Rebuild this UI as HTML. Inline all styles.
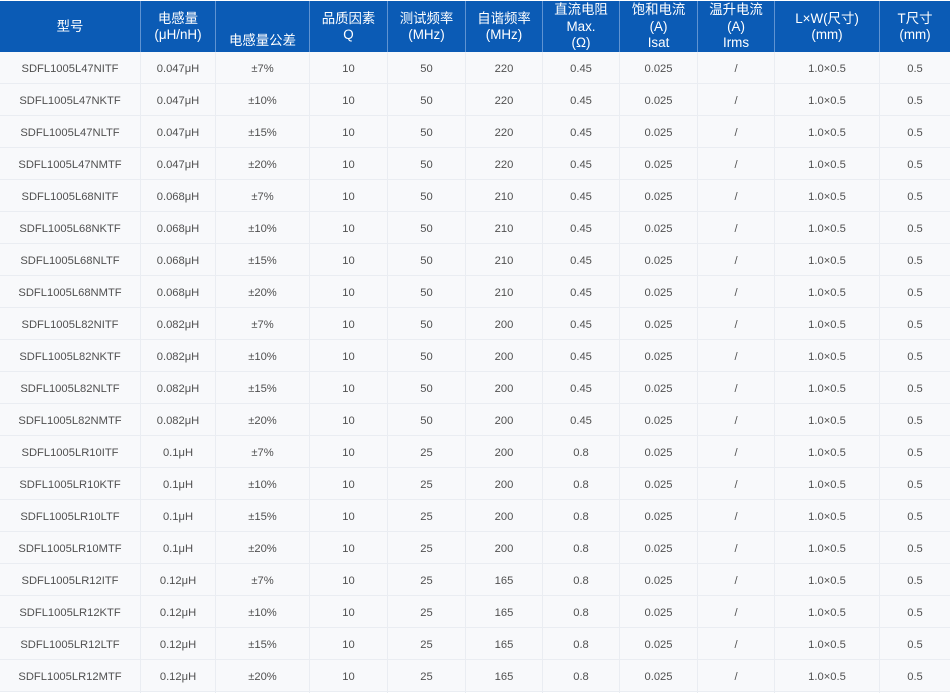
<!DOCTYPE html>
<html><head><meta charset="utf-8"><style>
*{margin:0;padding:0;box-sizing:border-box}
html,body{width:950px;height:694px;background:#fff;overflow:hidden}
body{font-family:"Liberation Sans","Noto Sans CJK SC",sans-serif;position:relative}
.hdr{position:absolute;left:0;top:1px;width:950px;height:51px;background:#0b5bb5;display:grid;grid-template-columns:140px 75px 94px 78px 78px 77px 77px 78px 77px 105px 71px}
.hdr div{color:#fff;font-size:13.4px;line-height:16.5px;text-align:center;display:flex;flex-direction:column;justify-content:center;align-items:center;border-left:1px solid #5f93d2;position:relative;padding-top:1px}
.hdr div:first-child{border-left:none}
.hdr div.low{justify-content:flex-start;padding-top:32px}
.body{position:absolute;left:0;top:52px;width:950px;background:#f8f9fb}
.r{display:grid;grid-template-columns:140px 75px 94px 78px 78px 77px 77px 78px 77px 105px 71px;height:32px;border-bottom:1px solid #eaedf2}
.r div{font-size:11.2px;color:#505050;text-align:center;line-height:31px;padding-top:2px;border-left:1px solid #eaedf2;white-space:nowrap}
.r div:first-child{border-left:none}
</style></head><body>
<div class="hdr">
<div>型号</div>
<div>电感量<br>(μH/nH)</div>
<div class="low">电感量公差</div>
<div>品质因素<br>Q</div>
<div>测试频率<br>(MHz)</div>
<div>自谐频率<br>(MHz)</div>
<div>直流电阻<br>Max.<br>(Ω)</div>
<div>饱和电流<br>(A)<br>Isat</div>
<div>温升电流<br>(A)<br>Irms</div>
<div>L×W(尺寸)<br>(mm)</div>
<div>T尺寸<br>(mm)</div>
</div>
<div class="body">
<div class="r"><div>SDFL1005L47NITF</div><div>0.047μH</div><div>±7%</div><div>10</div><div>50</div><div>220</div><div>0.45</div><div>0.025</div><div>/</div><div>1.0×0.5</div><div>0.5</div></div>
<div class="r"><div>SDFL1005L47NKTF</div><div>0.047μH</div><div>±10%</div><div>10</div><div>50</div><div>220</div><div>0.45</div><div>0.025</div><div>/</div><div>1.0×0.5</div><div>0.5</div></div>
<div class="r"><div>SDFL1005L47NLTF</div><div>0.047μH</div><div>±15%</div><div>10</div><div>50</div><div>220</div><div>0.45</div><div>0.025</div><div>/</div><div>1.0×0.5</div><div>0.5</div></div>
<div class="r"><div>SDFL1005L47NMTF</div><div>0.047μH</div><div>±20%</div><div>10</div><div>50</div><div>220</div><div>0.45</div><div>0.025</div><div>/</div><div>1.0×0.5</div><div>0.5</div></div>
<div class="r"><div>SDFL1005L68NITF</div><div>0.068μH</div><div>±7%</div><div>10</div><div>50</div><div>210</div><div>0.45</div><div>0.025</div><div>/</div><div>1.0×0.5</div><div>0.5</div></div>
<div class="r"><div>SDFL1005L68NKTF</div><div>0.068μH</div><div>±10%</div><div>10</div><div>50</div><div>210</div><div>0.45</div><div>0.025</div><div>/</div><div>1.0×0.5</div><div>0.5</div></div>
<div class="r"><div>SDFL1005L68NLTF</div><div>0.068μH</div><div>±15%</div><div>10</div><div>50</div><div>210</div><div>0.45</div><div>0.025</div><div>/</div><div>1.0×0.5</div><div>0.5</div></div>
<div class="r"><div>SDFL1005L68NMTF</div><div>0.068μH</div><div>±20%</div><div>10</div><div>50</div><div>210</div><div>0.45</div><div>0.025</div><div>/</div><div>1.0×0.5</div><div>0.5</div></div>
<div class="r"><div>SDFL1005L82NITF</div><div>0.082μH</div><div>±7%</div><div>10</div><div>50</div><div>200</div><div>0.45</div><div>0.025</div><div>/</div><div>1.0×0.5</div><div>0.5</div></div>
<div class="r"><div>SDFL1005L82NKTF</div><div>0.082μH</div><div>±10%</div><div>10</div><div>50</div><div>200</div><div>0.45</div><div>0.025</div><div>/</div><div>1.0×0.5</div><div>0.5</div></div>
<div class="r"><div>SDFL1005L82NLTF</div><div>0.082μH</div><div>±15%</div><div>10</div><div>50</div><div>200</div><div>0.45</div><div>0.025</div><div>/</div><div>1.0×0.5</div><div>0.5</div></div>
<div class="r"><div>SDFL1005L82NMTF</div><div>0.082μH</div><div>±20%</div><div>10</div><div>50</div><div>200</div><div>0.45</div><div>0.025</div><div>/</div><div>1.0×0.5</div><div>0.5</div></div>
<div class="r"><div>SDFL1005LR10ITF</div><div>0.1μH</div><div>±7%</div><div>10</div><div>25</div><div>200</div><div>0.8</div><div>0.025</div><div>/</div><div>1.0×0.5</div><div>0.5</div></div>
<div class="r"><div>SDFL1005LR10KTF</div><div>0.1μH</div><div>±10%</div><div>10</div><div>25</div><div>200</div><div>0.8</div><div>0.025</div><div>/</div><div>1.0×0.5</div><div>0.5</div></div>
<div class="r"><div>SDFL1005LR10LTF</div><div>0.1μH</div><div>±15%</div><div>10</div><div>25</div><div>200</div><div>0.8</div><div>0.025</div><div>/</div><div>1.0×0.5</div><div>0.5</div></div>
<div class="r"><div>SDFL1005LR10MTF</div><div>0.1μH</div><div>±20%</div><div>10</div><div>25</div><div>200</div><div>0.8</div><div>0.025</div><div>/</div><div>1.0×0.5</div><div>0.5</div></div>
<div class="r"><div>SDFL1005LR12ITF</div><div>0.12μH</div><div>±7%</div><div>10</div><div>25</div><div>165</div><div>0.8</div><div>0.025</div><div>/</div><div>1.0×0.5</div><div>0.5</div></div>
<div class="r"><div>SDFL1005LR12KTF</div><div>0.12μH</div><div>±10%</div><div>10</div><div>25</div><div>165</div><div>0.8</div><div>0.025</div><div>/</div><div>1.0×0.5</div><div>0.5</div></div>
<div class="r"><div>SDFL1005LR12LTF</div><div>0.12μH</div><div>±15%</div><div>10</div><div>25</div><div>165</div><div>0.8</div><div>0.025</div><div>/</div><div>1.0×0.5</div><div>0.5</div></div>
<div class="r"><div>SDFL1005LR12MTF</div><div>0.12μH</div><div>±20%</div><div>10</div><div>25</div><div>165</div><div>0.8</div><div>0.025</div><div>/</div><div>1.0×0.5</div><div>0.5</div></div>
</div>
</body></html>
